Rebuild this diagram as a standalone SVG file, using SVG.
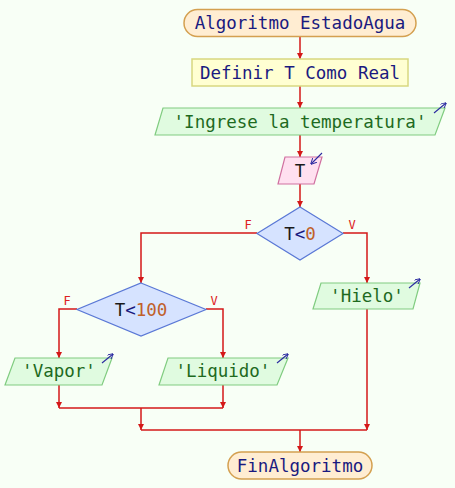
<svg xmlns="http://www.w3.org/2000/svg" width="455" height="488" viewBox="0 0 455 488">
<defs>
<style>
text{font-family:"DejaVu Sans Mono","Liberation Mono",monospace;font-size:17.5px;text-anchor:middle}
.term{fill:#ffedd2;stroke:#d4a050;stroke-width:1.5}
.def{fill:#ffffd2;stroke:#d8d880;stroke-width:1.5}
.out{fill:#e0fbe0;stroke:#80cc80;stroke-width:1.2}
.inp{fill:#ffe0f0;stroke:#d070a0;stroke-width:1.2}
.dec{fill:#d6e3ff;stroke:#5a78d6;stroke-width:1.2}
.nav{fill:#1a1a80}
.grn{fill:#1e6a1e}
.num{fill:#c0602a}
.blk{fill:#1a1a1a}
.lbl{font-size:12px;fill:#dd2222}
.ln{fill:none;stroke:#d41818;stroke-width:1.5}
.ico{fill:none;stroke:#2a2aa0;stroke-width:1.1}
</style>
<marker id="ah" viewBox="0 0 10 10" refX="10" refY="5" markerWidth="6" markerHeight="9" markerUnits="userSpaceOnUse" orient="auto">
<path d="M0,0 L10,5 L0,10 Z" fill="#d41818"/>
</marker>
<marker id="ia" viewBox="0 0 10 10" refX="9" refY="5" markerWidth="6" markerHeight="6" markerUnits="userSpaceOnUse" orient="auto">
<path d="M0,0 L10,5 L0,10" fill="none" stroke="#2a2aa0" stroke-width="1.6"/>
</marker>
</defs>
<rect width="455" height="488" fill="#f8fff6"/>
<g id="connectors">
<path class="ln" d="M300,37 V59" marker-end="url(#ah)"/>
<path class="ln" d="M300,86 V108" marker-end="url(#ah)"/>
<path class="ln" d="M300,135 V157" marker-end="url(#ah)"/>
<path class="ln" d="M300,184 V207" marker-end="url(#ah)"/>
<path class="ln" d="M257,233 H141 V283" marker-end="url(#ah)"/>
<path class="ln" d="M343,233 H367 V283" marker-end="url(#ah)"/>
<path class="ln" d="M77,309 H59 V358" marker-end="url(#ah)"/>
<path class="ln" d="M206,309 H223 V358" marker-end="url(#ah)"/>
<path class="ln" d="M59,385 V408" marker-end="url(#ah)"/>
<path class="ln" d="M223,385 V408" marker-end="url(#ah)"/>
<path class="ln" d="M59,408 H223" stroke="#e06060"/>
<path class="ln" d="M141,408 V430" marker-end="url(#ah)"/>
<path class="ln" d="M367,309 V430" marker-end="url(#ah)"/>
<path class="ln" d="M141,430 H367"/>
<path class="ln" d="M300,430 V452" marker-end="url(#ah)"/>
<text class="lbl" x="248" y="229">F</text>
<text class="lbl" x="352" y="229">V</text>
<text class="lbl" x="67" y="305">F</text>
<text class="lbl" x="214" y="305">V</text>
</g>
<g id="start">
<rect class="term" x="184" y="9.5" width="232" height="27" rx="13.5"/>
<text class="nav" x="300" y="29">Algoritmo EstadoAgua</text>
</g>
<g id="define">
<rect class="def" x="192" y="59" width="216" height="27"/>
<text class="nav" x="300" y="78.5">Definir T Como Real</text>
</g>
<g id="out1">
<polygon class="out" points="163,108 445,108 435,135 155,135"/>
<text class="grn" x="300" y="127.5">'Ingrese la temperatura'</text>
<path class="ico" d="M434,113 L446,103" marker-end="url(#ia)"/>
</g>
<g id="inputT">
<polygon class="inp" points="285,157 322,157 314,184 278,184"/>
<text class="blk" x="300" y="176.5">T</text>
<path class="ico" d="M322,153 L311,164" marker-end="url(#ia)"/>
</g>
<g id="dec1">
<polygon class="dec" points="300,207 343,233.5 300,260 257,233.5"/>
<text x="300" y="239.5"><tspan class="blk">T</tspan><tspan class="nav">&lt;</tspan><tspan class="num">0</tspan></text>
</g>
<g id="dec2">
<polygon class="dec" points="141,283 206,309.5 141,336 77,309.5"/>
<text x="141" y="315.5"><tspan class="blk">T</tspan><tspan class="nav">&lt;</tspan><tspan class="num">100</tspan></text>
</g>
<g id="hielo">
<polygon class="out" points="321,283 420,283 413,309 313,309"/>
<text class="grn" x="367" y="302">'Hielo'</text>
<path class="ico" d="M409,288 L420,279" marker-end="url(#ia)"/>
</g>
<g id="vapor">
<polygon class="out" points="15,358 112,358 102,385 5,385"/>
<text class="grn" x="59" y="377">'Vapor'</text>
<path class="ico" d="M102,363 L113,354" marker-end="url(#ia)"/>
</g>
<g id="liquido">
<polygon class="out" points="168,358 288,358 277,385 159,385"/>
<text class="grn" x="223" y="377">'Liquido'</text>
<path class="ico" d="M277,363 L288,354" marker-end="url(#ia)"/>
</g>
<g id="end">
<rect class="term" x="228" y="452" width="144" height="27" rx="13.5"/>
<text class="nav" x="300" y="471.5">FinAlgoritmo</text>
</g>
</svg>
